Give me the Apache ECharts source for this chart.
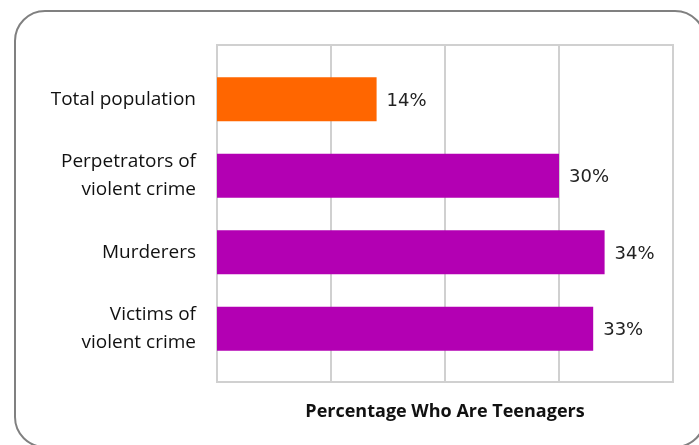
<!DOCTYPE html>
<html>
<head>
<meta charset="utf-8">
<script src="https://cdn.jsdelivr.net/npm/echarts@6/dist/echarts.min.js"></script>
<style>
  html, body { margin: 0; padding: 0; background: #fff; }
  #chart { width: 699px; height: 445px; }
</style>
</head>
<body>
<div id="chart"></div>
<script>
// data
const categories = ['Total population', 'Perpetrators of\nviolent crime', 'Murderers', 'Victims of\nviolent crime']
const values = [14, 30, 34, 33]
const barColors = ['#ff6600', '#b300b3', '#b300b3', '#b300b3']
const axisTitle = 'Percentage Who Are Teenagers'

const chart = echarts.init(document.getElementById('chart'))

// grid 0 draws the frame and vertical lines, grid 1 holds the bars
// (the bars sit inset from the frame top and bottom in the original)
const option = {
  animation: false,
  graphic: [
    {
      type: 'rect',
      shape: { x: 15, y: 11, width: 690, height: 436, r: 30 },
      style: { fill: 'none', stroke: '#808080', lineWidth: 2 },
      z: -1
    }
  ],
  grid: [
    {
      left: 217, right: 26, top: 45, bottom: 63,
      show: true,
      borderColor: '#d0d0d0',
      borderWidth: 2
    },
    { left: 217, right: 26, top: 61, bottom: 78 }
  ],
  xAxis: [
    {
      gridIndex: 0,
      type: 'value',
      min: 0,
      max: 40,
      interval: 10,
      name: axisTitle,
      nameLocation: 'middle',
      nameGap: 21,
      nameTextStyle: {
        fontFamily: 'Open Sans',
        fontWeight: 'bold',
        fontSize: 18,
        color: '#111'
      },
      axisLine: { show: false },
      axisTick: { show: false },
      axisLabel: { show: false },
      splitLine: { lineStyle: { color: '#d0d0d0', width: 2 } }
    },
    {
      gridIndex: 1,
      type: 'value',
      min: 0,
      max: 40,
      show: false,
      splitLine: { show: false }
    }
  ],
  yAxis: [
    {
      gridIndex: 0,
      type: 'value',
      min: 0,
      max: 1,
      show: false,
      splitLine: { show: false }
    },
    {
      gridIndex: 1,
      type: 'category',
      inverse: true,
      data: categories,
      axisLine: { show: false },
      axisTick: { show: false },
      axisLabel: {
        margin: 21,
        fontFamily: 'Open Sans',
        fontSize: 19,
        lineHeight: 28,
        color: '#111'
      }
    }
  ],
  series: [
    {
      type: 'bar',
      xAxisIndex: 1,
      yAxisIndex: 1,
      barWidth: 44,
      data: values.map((v, i) => ({ value: v, itemStyle: { color: barColors[i] } })),
      label: {
        show: true,
        position: 'right',
        distance: 10,
        offset: [0, 2],
        formatter: '{c}%',
        fontFamily: 'DejaVu Sans',
        fontSize: 18,
        color: '#222'
      }
    }
  ]
}

chart.setOption(option)
</script>
</body>
</html>
